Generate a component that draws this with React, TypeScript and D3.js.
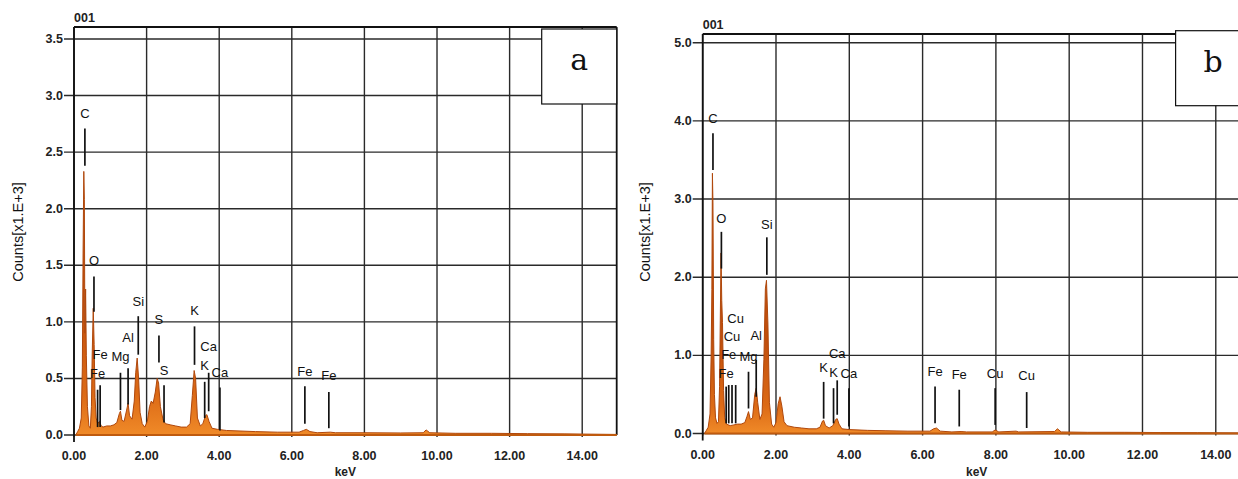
import React, { useEffect, useRef } from 'react';
import * as d3 from 'd3';

// EDS spectra, counts in x1000
const spectrumA: [number, number][] = [
  [0.05, 0], [0.1, 0.03], [0.15, 0.06], [0.2, 0.15], [0.23, 0.6], [0.25, 1.6], [0.27, 2.33], [0.285, 2.08],
  [0.3, 0.9], [0.32, 1.29], [0.34, 0.7], [0.37, 0.25], [0.41, 0.08], [0.45, 0.06], [0.48, 0.25], [0.5, 0.69],
  [0.53, 1.12], [0.555, 0.8], [0.58, 0.33], [0.61, 0.15], [0.65, 0.1], [0.7, 0.12], [0.75, 0.08], [0.8, 0.07],
  [0.9, 0.08], [1.0, 0.08], [1.1, 0.09], [1.18, 0.11], [1.25, 0.19], [1.28, 0.21], [1.32, 0.13], [1.38, 0.12],
  [1.45, 0.22], [1.49, 0.28], [1.53, 0.17], [1.6, 0.14], [1.66, 0.3], [1.7, 0.55], [1.74, 0.68], [1.78, 0.5],
  [1.82, 0.2], [1.88, 0.1], [1.95, 0.07], [2.02, 0.12], [2.08, 0.25], [2.13, 0.3], [2.18, 0.28], [2.24, 0.38],
  [2.29, 0.5], [2.33, 0.46], [2.38, 0.25], [2.45, 0.14], [2.52, 0.1], [2.65, 0.09], [2.8, 0.08], [2.95, 0.07],
  [3.1, 0.07], [3.2, 0.1], [3.26, 0.35], [3.31, 0.57], [3.35, 0.5], [3.4, 0.15], [3.48, 0.08], [3.55, 0.1],
  [3.62, 0.17], [3.66, 0.18], [3.72, 0.12], [3.8, 0.06], [3.95, 0.05], [4.2, 0.04], [4.6, 0.035], [5.0, 0.03],
  [5.6, 0.025], [6.2, 0.025], [6.32, 0.04], [6.4, 0.05], [6.5, 0.03], [6.7, 0.02], [7.06, 0.025], [7.2, 0.02],
  [8.0, 0.02], [9.0, 0.018], [9.62, 0.02], [9.7, 0.045], [9.8, 0.02], [10.5, 0.015], [11.5, 0.015],
  [12.5, 0.012], [13.5, 0.01], [14.95, 0.005],
];

const spectrumB: [number, number][] = [
  [0.05, 0], [0.1, 0.04], [0.15, 0.08], [0.2, 0.25], [0.23, 1.0], [0.25, 1.84], [0.265, 3.33], [0.28, 2.95],
  [0.3, 1.2], [0.32, 0.5], [0.35, 0.2], [0.39, 0.13], [0.43, 0.15], [0.46, 0.6], [0.48, 1.45], [0.5, 2.31],
  [0.52, 1.7], [0.54, 1.42], [0.57, 0.55], [0.6, 0.2], [0.65, 0.12], [0.75, 0.1], [0.85, 0.11], [0.95, 0.12],
  [1.05, 0.12], [1.15, 0.14], [1.21, 0.22], [1.25, 0.28], [1.3, 0.18], [1.36, 0.2], [1.42, 0.5], [1.46, 0.58],
  [1.5, 0.4], [1.56, 0.18], [1.62, 0.25], [1.67, 0.95], [1.71, 1.85], [1.74, 1.96], [1.78, 1.4], [1.82, 0.4],
  [1.88, 0.12], [1.94, 0.08], [2.0, 0.14], [2.06, 0.38], [2.11, 0.47], [2.16, 0.35], [2.22, 0.15], [2.3, 0.1],
  [2.5, 0.08], [2.7, 0.07], [2.9, 0.06], [3.1, 0.06], [3.2, 0.08], [3.27, 0.16], [3.3, 0.17], [3.35, 0.1],
  [3.45, 0.07], [3.55, 0.1], [3.63, 0.18], [3.67, 0.19], [3.72, 0.12], [3.8, 0.06], [4.0, 0.05], [4.5, 0.04],
  [5.0, 0.035], [5.6, 0.03], [6.2, 0.03], [6.3, 0.06], [6.38, 0.07], [6.48, 0.03], [6.8, 0.02], [7.05, 0.025],
  [7.2, 0.02], [7.9, 0.02], [7.98, 0.045], [8.08, 0.02], [8.55, 0.03], [8.62, 0.02], [9.6, 0.025], [9.68, 0.06],
  [9.78, 0.02], [10.5, 0.015], [11.5, 0.015], [12.5, 0.012], [13.5, 0.01], [14.95, 0.005],
];

const xTicks = [0, 2, 4, 6, 8, 10, 12, 14];
const yTicksA = [0, 0.5, 1, 1.5, 2, 2.5, 3, 3.5];
const yTicksB = [0, 1, 2, 3, 4, 5];

// [element, keV, label level, line top, line bottom]
const markersA: [string, number, number, number, number][] = [
  ['C', 0.3, 2.84, 2.71, 2.38],
  ['O', 0.55, 1.54, 1.4, 1.09],
  ['Fe', 0.65, 0.54, 0.4, 0.07],
  ['Fe', 0.72, 0.71, 0.44, 0.07],
  ['Mg', 1.28, 0.69, 0.55, 0.22],
  ['Al', 1.49, 0.86, 0.59, 0.27],
  ['Si', 1.77, 1.18, 1.05, 0.71],
  ['S', 2.34, 1.02, 0.88, 0.64],
  ['S', 2.48, 0.57, 0.44, 0.11],
  ['K', 3.32, 1.1, 0.96, 0.62],
  ['Ca', 3.71, 0.78, 0.55, 0.21],
  ['K', 3.6, 0.61, 0.47, 0.15],
  ['Ca', 4.02, 0.55, 0.42, 0.04],
  ['Fe', 6.36, 0.56, 0.43, 0.1],
  ['Fe', 7.02, 0.53, 0.38, 0.06],
];

const markersB: [string, number, number, number, number][] = [
  ['C', 0.28, 4.03, 3.84, 3.37],
  ['O', 0.51, 2.75, 2.58, 2.11],
  ['Fe', 0.64, 0.77, 0.6, 0.13],
  ['Fe', 0.71, 1.01, 0.62, 0.13],
  ['Cu', 0.8, 1.24, 0.62, 0.13],
  ['Cu', 0.9, 1.47, 0.62, 0.13],
  ['Mg', 1.25, 0.98, 0.79, 0.32],
  ['Al', 1.46, 1.26, 0.94, 0.47],
  ['Si', 1.75, 2.68, 2.51, 2.03],
  ['K', 3.3, 0.85, 0.66, 0.19],
  ['K', 3.57, 0.78, 0.58, 0.13],
  ['Ca', 3.67, 1.02, 0.68, 0.24],
  ['Ca', 3.99, 0.77, 0.58, 0.09],
  ['Fe', 6.34, 0.79, 0.6, 0.13],
  ['Fe', 7.0, 0.75, 0.56, 0.09],
  ['Cu', 7.98, 0.77, 0.58, 0.11],
  ['Cu', 8.84, 0.74, 0.53, 0.07],
];

const SANS = 'Liberation Sans, Arial, sans-serif';

function drawPanel(svg, o) {
  const x = d3.scaleLinear().domain([0, 14.95]).range([o.left, o.right]);
  const y = d3.scaleLinear().domain([0, o.yMax]).range([o.bottom, o.top]);
  const g = svg.append('g');

  const grad = svg.select('defs').append('linearGradient')
    .attr('id', o.id + '-fill')
    .attr('gradientUnits', 'userSpaceOnUse')
    .attr('x1', 0).attr('x2', 0)
    .attr('y1', y(0)).attr('y2', y(1.2));
  grad.append('stop').attr('offset', 0).attr('stop-color', '#f08a28');
  grad.append('stop').attr('offset', 0.3).attr('stop-color', '#dc6a16');
  grad.append('stop').attr('offset', 1).attr('stop-color', '#c04e0c');

  // grid
  g.selectAll('.hg').data(o.yTicks).join('line')
    .attr('x1', o.left - 10).attr('x2', o.right)
    .attr('y1', (d) => y(d)).attr('y2', (d) => y(d))
    .attr('stroke', '#2a2a2a').attr('stroke-width', 1.4);
  g.selectAll('.vg').data(xTicks).join('line')
    .attr('x1', (d) => x(d)).attr('x2', (d) => x(d))
    .attr('y1', o.frameTop).attr('y2', y(0) + 2)
    .attr('stroke', '#2a2a2a').attr('stroke-width', 1.4);

  // frame
  g.append('line').attr('x1', o.left).attr('x2', o.right).attr('y1', o.frameTop).attr('y2', o.frameTop)
    .attr('stroke', '#111').attr('stroke-width', 1.8);
  g.append('line').attr('x1', o.left).attr('x2', o.left).attr('y1', o.frameTop).attr('y2', y(0) + 7)
    .attr('stroke', '#111').attr('stroke-width', 1.8);
  g.append('line').attr('x1', o.right).attr('x2', o.right).attr('y1', o.frameTop).attr('y2', y(0))
    .attr('stroke', '#111').attr('stroke-width', 1.8);

  // spectrum
  const area = d3.area().x((d) => x(d[0])).y0(y(0)).y1((d) => y(d[1]));
  g.append('path').datum(o.spectrum).attr('d', area)
    .attr('fill', `url(#${o.id}-fill)`);
  g.append('path').datum(o.spectrum).attr('d', d3.line().x((d) => x(d[0])).y((d) => y(d[1])))
    .attr('fill', 'none').attr('stroke', '#b0480c').attr('stroke-width', 1);
  g.append('line').attr('x1', x(0.05)).attr('x2', o.right).attr('y1', y(0)).attr('y2', y(0))
    .attr('stroke', '#bf5a0e').attr('stroke-width', 2.2);

  // element markers
  g.selectAll('.mk').data(o.markers).join('line')
    .attr('x1', (d) => x(d[1])).attr('x2', (d) => x(d[1]))
    .attr('y1', (d) => y(d[3])).attr('y2', (d) => y(d[4]))
    .attr('stroke', '#111').attr('stroke-width', 1.7);
  g.selectAll('.ml').data(o.markers).join('text')
    .attr('x', (d) => x(d[1])).attr('y', (d) => y(d[2]))
    .attr('text-anchor', 'middle').attr('dominant-baseline', 'central')
    .attr('font-family', SANS).attr('font-size', 13).attr('fill', '#111')
    .text((d) => d[0]);

  // axes text
  g.selectAll('.yl').data(o.yTicks).join('text')
    .attr('x', o.left - 11).attr('y', (d) => y(d))
    .attr('text-anchor', 'end').attr('dominant-baseline', 'central')
    .attr('font-family', SANS).attr('font-size', 12.5).attr('font-weight', 'bold').attr('fill', '#222')
    .text((d) => d3.format('.1f')(d));
  g.selectAll('.xl').data(xTicks).join('text')
    .attr('x', (d) => x(d)).attr('y', o.xLabelY)
    .attr('text-anchor', 'middle')
    .attr('font-family', SANS).attr('font-size', 12.5).attr('font-weight', 'bold').attr('fill', '#222')
    .text((d) => d3.format('.2f')(d));
  g.append('text').attr('x', (o.left + o.right) / 2).attr('y', 476)
    .attr('text-anchor', 'middle').attr('font-family', SANS).attr('font-size', 12).attr('font-weight', 'bold')
    .attr('fill', '#222').text('keV');
  g.append('text').attr('x', o.left).attr('y', o.frameTop - 5)
    .attr('font-family', SANS).attr('font-size', 12.5).attr('font-weight', 'bold').attr('fill', '#222')
    .text('001');
  g.append('text')
    .attr('transform', `translate(${o.titleX},232) rotate(-90)`)
    .attr('text-anchor', 'middle').attr('dominant-baseline', 'central')
    .attr('font-family', SANS).attr('font-size', 14.5).attr('fill', '#111')
    .text('Counts[x1.E+3]');

  // panel tag
  g.append('rect').attr('x', o.right - 75).attr('y', o.tagTop).attr('width', 75).attr('height', 75)
    .attr('fill', '#fff').attr('stroke', '#111').attr('stroke-width', 1.2);
  g.append('text').attr('x', o.right - 37.5).attr('y', o.tagTop + 41)
    .attr('text-anchor', 'middle').attr('font-family', 'DejaVu Serif, serif').attr('font-size', 30)
    .attr('fill', '#111').text(o.tag);
}

export default function App() {
  const svgRef = useRef(null);

  useEffect(() => {
    const svg = d3.select(svgRef.current);
    svg.selectAll('*').remove();
    svg.append('defs');
    drawPanel(svg, {
      id: 'a', spectrum: spectrumA, markers: markersA, yTicks: yTicksA, yMax: 3.5,
      left: 74, right: 616.7, top: 39, bottom: 435, frameTop: 27, xLabelY: 460,
      titleX: 18, tag: 'a', tagTop: 29,
    });
    drawPanel(svg, {
      id: 'b', spectrum: spectrumB, markers: markersB, yTicks: yTicksB, yMax: 5,
      left: 702.7, right: 1250.6, top: 42.7, bottom: 433.5, frameTop: 34, xLabelY: 459,
      titleX: 645, tag: 'b', tagTop: 30.7,
    });
  }, []);

  return (
    <svg ref={svgRef} width={1238} height={479}
      style={{ position: 'absolute', left: 0, top: 0, background: '#fff' }} />
  );
}
